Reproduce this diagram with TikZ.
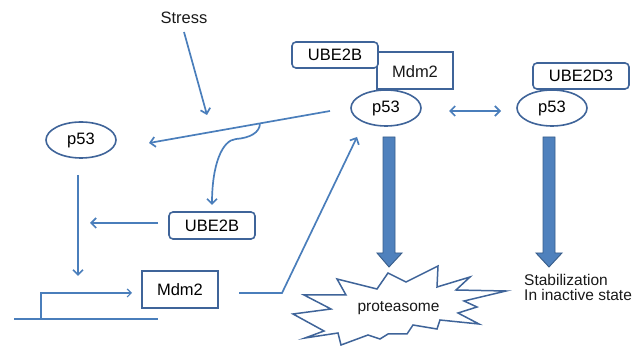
\documentclass[tikz,border=0pt]{standalone}
\usepackage{fontspec}
\setmainfont{Liberation Sans}
\usetikzlibrary{arrows.meta,shapes.geometric,calc}
\definecolor{lineblue}{HTML}{4A7EBB}
\definecolor{edgeblue}{HTML}{3F6499}
\definecolor{fillblue}{HTML}{4F81BD}
\definecolor{darkedge}{HTML}{385D8A}
\begin{document}
\begin{tikzpicture}[x=1pt,y=-1pt,
  txt/.style={font=\fontsize{16.5}{19}\selectfont, inner sep=0pt, text=black!90},
  prot/.style={ellipse, draw=edgeblue, line width=1.6pt, fill=white, minimum width=70pt, minimum height=36pt, inner sep=0pt, font=\fontsize{16.5}{19}\selectfont},
  rbox/.style={draw=edgeblue, line width=1.6pt, rounded corners=4pt, fill=white, inner sep=0pt, font=\fontsize{16.5}{19}\selectfont},
  sbox/.style={draw=edgeblue, line width=1.6pt, fill=white, inner sep=0pt, font=\fontsize{16.5}{19}\selectfont},
  conn/.style={draw=lineblue, line width=1.7pt},
  arr/.style={conn, -{Straight Barb[length=5pt,width=10pt,line width=1.7pt]}},
  thin/.style={draw=lineblue, line width=1.2pt},
  thinarr/.style={thin, -{Straight Barb[length=4pt,width=8pt,line width=1.2pt]}},
  fat/.style={fill=fillblue, draw=darkedge, line width=0.9pt, line join=miter},
]
\useasboundingbox (0,0) rectangle (643,347);

% ---- nodes ----
\node[txt] (stress) at (184,18) {Stress};
\node[prot] (p53L) at (81,140) {p53};

\node[sbox, minimum width=76pt, minimum height=37pt] (mdmT) at (415,70.5) {};
\node[txt] at (415,72) {Mdm2};
\node[rbox, minimum width=86pt, minimum height=26pt] (ubeT) at (335,55) {UBE2B};
\node[prot] (p53M) at (386,108) {p53};

\node[rbox, minimum width=96pt, minimum height=26pt] (ube3) at (581,76) {UBE2D3};
\node[prot] (p53R) at (552,108) {p53};

\node[rbox, minimum width=86pt, minimum height=27pt] (ubeL) at (212,225.5) {UBE2B};
\node[sbox, minimum width=76pt, minimum height=37pt] (mdmL) at (180,289.5) {Mdm2};

% ---- proteasome starburst ----
\draw[draw=edgeblue, line width=1.5pt, fill=white, line join=miter]
  (337,279) -- (377,289) -- (388,273) -- (406,282) -- (438,266) -- (437,287)
  -- (470,277) -- (456,290) -- (506,291) -- (464,301) -- (477,307) -- (458,313)
  -- (479,324) -- (440,320) -- (437,329) -- (413,325) -- (407,334) -- (388,334)
  -- (380,339) -- (368,335) -- (341,345) -- (338,333) -- (305,338) -- (324,331)
  -- (293,314) -- (331,309) -- (304,295) -- (346,295) -- cycle;
\node[font=\fontsize{15.5}{18}\selectfont, inner sep=0pt, text=black!90] (prot) at (398.5,308) {proteasome};

\node[font=\fontsize{15.5}{15}\selectfont, inner sep=0pt, align=left, anchor=north west, text=black!90] (stab) at (524,274.5) {Stabilization\\In inactive state};

% ---- coordinates ----
\coordinate (stressS) at (184,32);
\coordinate (stressE) at (207,115);
\coordinate (longS) at (330,111);
\coordinate (longE) at (149,143);
\coordinate (branch) at ($(longS)!0.387!(longE)$);
\coordinate (branchE) at (212,205);
\coordinate (ubeLS) at (158,223);
\coordinate (ubeLE) at (90,223);
\coordinate (vertS) at (78,175);
\coordinate (vertE) at (78,276);
\coordinate (dnaL) at (14,319);
\coordinate (dnaR) at (158,319);
\coordinate (tss) at (41,319);
\coordinate (tssTop) at (41,293);
\coordinate (tssE) at (132,293);
\coordinate (mdmS) at (239,293);
\coordinate (mdmK) at (282,293);
\coordinate (mdmE) at (357,137);
\coordinate (dblS) at (449,111);
\coordinate (dblE) at (501,111);

% ---- connectors ----
\draw[arr] (stressS) -- (stressE);
\draw[arr] (longS) -- (longE);
\draw[arr] (branch) .. controls ($(branch)+(0,9)$) and (250,138) .. (236,139)
  .. controls (222,140) and (212,165) .. (branchE);
\draw[arr] (ubeLS) -- (ubeLE);
\draw[arr] (vertS) -- (vertE);
\draw[thin] (dnaL) -- (dnaR);
\draw[thinarr] (tss) -- (tssTop) -- (tssE);
\draw[arr, line join=miter] (mdmS) -- (mdmK) -- (mdmE);
\draw[conn, {Straight Barb[length=5pt,width=10pt,line width=1.7pt]}-{Straight Barb[length=5pt,width=10pt,line width=1.7pt]}] (dblS) -- (dblE);

% ---- thick arrows ----
\draw[fat] (383,137) -- (395,137) -- (395,253) -- (402,253) -- (389,267) -- (377,253) -- (383,253) -- cycle;
\draw[fat] (543,137) -- (555,137) -- (555,253) -- (562,253) -- (549,267) -- (536,253) -- (543,253) -- cycle;
\end{tikzpicture}
\end{document}
